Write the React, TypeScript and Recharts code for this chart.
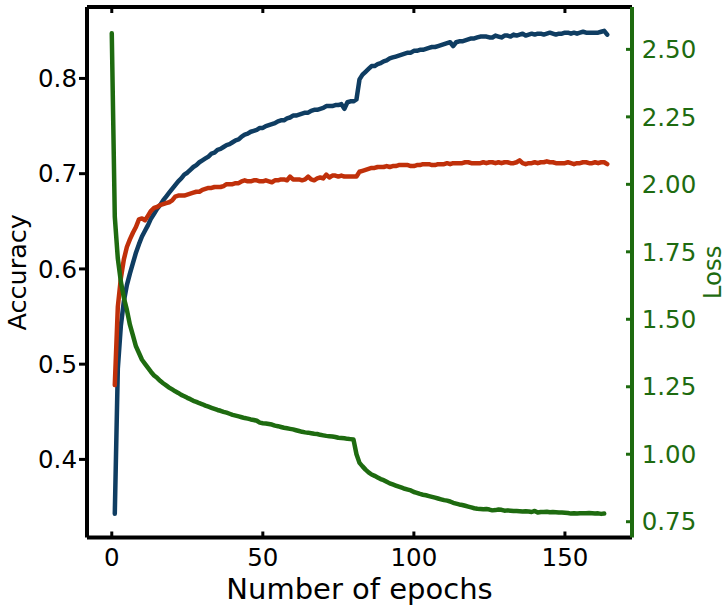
import React from 'react';
import { LineChart, Line, XAxis, YAxis } from 'recharts';

// Accuracy series: epochs 1..164
const trainAcc: number[] = [
  0.343, 0.495, 0.540, 0.566, 0.583, 0.595, 0.606, 0.617, 0.626, 0.634,
  0.640, 0.646, 0.653, 0.658, 0.663, 0.667, 0.672, 0.676, 0.680, 0.684,
  0.688, 0.692, 0.695, 0.699, 0.701, 0.704, 0.707, 0.709, 0.712, 0.714,
  0.716, 0.718, 0.721, 0.722, 0.725, 0.726, 0.728, 0.730, 0.731, 0.733,
  0.735, 0.736, 0.739, 0.741, 0.742, 0.744, 0.745, 0.746, 0.748, 0.748,
  0.750, 0.751, 0.752, 0.753, 0.755, 0.756, 0.756, 0.758, 0.759, 0.761,
  0.761, 0.762, 0.763, 0.764, 0.764, 0.766, 0.767, 0.767, 0.768, 0.769,
  0.771, 0.771, 0.771, 0.772, 0.772, 0.773, 0.768, 0.775, 0.776, 0.776,
  0.778, 0.799, 0.804, 0.807, 0.810, 0.813, 0.813, 0.815, 0.816, 0.818,
  0.819, 0.821, 0.822, 0.823, 0.824, 0.825, 0.826, 0.827, 0.827, 0.829,
  0.829, 0.830, 0.830, 0.831, 0.832, 0.833, 0.833, 0.834, 0.835, 0.836,
  0.837, 0.838, 0.834, 0.838, 0.839, 0.839, 0.840, 0.841, 0.842, 0.842,
  0.843, 0.844, 0.844, 0.844, 0.843, 0.843, 0.845, 0.844, 0.843, 0.845,
  0.845, 0.844, 0.846, 0.845, 0.846, 0.847, 0.845, 0.846, 0.847, 0.846,
  0.847, 0.847, 0.846, 0.847, 0.848, 0.847, 0.846, 0.847, 0.847, 0.848,
  0.848, 0.847, 0.848, 0.847, 0.848, 0.849, 0.848, 0.848, 0.848, 0.848,
  0.848, 0.849, 0.850, 0.846,
];

const valAcc: number[] = [
  0.478, 0.560, 0.590, 0.610, 0.623, 0.631, 0.638, 0.644, 0.652, 0.653,
  0.651, 0.656, 0.661, 0.664, 0.665, 0.667, 0.668, 0.669, 0.670, 0.672,
  0.676, 0.677, 0.677, 0.677, 0.678, 0.679, 0.680, 0.681, 0.681, 0.683,
  0.684, 0.685, 0.685, 0.686, 0.686, 0.686, 0.687, 0.689, 0.689, 0.689,
  0.690, 0.690, 0.692, 0.693, 0.692, 0.692, 0.693, 0.693, 0.692, 0.692,
  0.693, 0.692, 0.691, 0.693, 0.693, 0.694, 0.694, 0.693, 0.697, 0.694,
  0.694, 0.694, 0.693, 0.694, 0.697, 0.694, 0.693, 0.695, 0.696, 0.695,
  0.699, 0.696, 0.698, 0.698, 0.697, 0.698, 0.697, 0.697, 0.697, 0.697,
  0.697, 0.702, 0.703, 0.704, 0.705, 0.706, 0.706, 0.707, 0.707, 0.707,
  0.708, 0.707, 0.708, 0.708, 0.709, 0.709, 0.709, 0.709, 0.708, 0.708,
  0.709, 0.709, 0.710, 0.710, 0.710, 0.709, 0.709, 0.710, 0.710, 0.710,
  0.711, 0.710, 0.711, 0.711, 0.711, 0.711, 0.712, 0.712, 0.711, 0.711,
  0.711, 0.711, 0.712, 0.711, 0.712, 0.712, 0.711, 0.712, 0.711, 0.712,
  0.712, 0.711, 0.711, 0.712, 0.714, 0.711, 0.710, 0.711, 0.711, 0.712,
  0.711, 0.712, 0.712, 0.713, 0.712, 0.712, 0.711, 0.711, 0.711, 0.711,
  0.712, 0.711, 0.710, 0.711, 0.711, 0.712, 0.712, 0.711, 0.711, 0.712,
  0.711, 0.712, 0.712, 0.710,
];

// Loss series: epochs 0..163
const lossVals: number[] = [
  2.560, 1.880, 1.725, 1.640, 1.580, 1.535, 1.480, 1.440, 1.400, 1.375,
  1.350, 1.335, 1.320, 1.305, 1.292, 1.283, 1.272, 1.263, 1.255, 1.247,
  1.240, 1.233, 1.227, 1.220, 1.215, 1.209, 1.204, 1.198, 1.194, 1.189,
  1.185, 1.180, 1.176, 1.172, 1.168, 1.164, 1.161, 1.157, 1.154, 1.150,
  1.146, 1.143, 1.140, 1.137, 1.134, 1.132, 1.129, 1.127, 1.124, 1.117,
  1.115, 1.114, 1.112, 1.110, 1.106, 1.104, 1.101, 1.098, 1.096, 1.094,
  1.092, 1.089, 1.086, 1.083, 1.081, 1.080, 1.078, 1.076, 1.075, 1.072,
  1.070, 1.068, 1.067, 1.066, 1.064, 1.061, 1.060, 1.059, 1.057, 1.056,
  1.055, 1.000, 0.968, 0.955, 0.943, 0.933, 0.925, 0.920, 0.914, 0.908,
  0.904, 0.898, 0.892, 0.888, 0.884, 0.880, 0.876, 0.872, 0.869, 0.866,
  0.860, 0.857, 0.853, 0.850, 0.848, 0.845, 0.842, 0.839, 0.836, 0.833,
  0.830, 0.828, 0.825, 0.820, 0.817, 0.814, 0.812, 0.809, 0.806, 0.803,
  0.800, 0.798, 0.797, 0.796, 0.797, 0.795, 0.792, 0.793, 0.795, 0.794,
  0.791, 0.792, 0.791, 0.790, 0.790, 0.789, 0.788, 0.789, 0.788, 0.786,
  0.790, 0.784, 0.786, 0.786, 0.787, 0.785, 0.786, 0.785, 0.784, 0.784,
  0.783, 0.782, 0.780, 0.781, 0.780, 0.781, 0.781, 0.781, 0.782, 0.781,
  0.780, 0.781, 0.779, 0.780,
];

const xTicks = [0, 50, 100, 150];
const accTicks = [0.4, 0.5, 0.6, 0.7, 0.8];
const lossTicks = [0.75, 1.0, 1.25, 1.5, 1.75, 2.0, 2.25, 2.5];

const NUM_EPOCHS = 165;
const data = Array.from({ length: NUM_EPOCHS }, (_, e) => ({
  epoch: e,
  train: e >= 1 && e - 1 < trainAcc.length ? trainAcc[e - 1] : null,
  val: e >= 1 && e - 1 < valAcc.length ? valAcc[e - 1] : null,
  loss: e < lossVals.length ? lossVals[e] : null,
}));

const BLUE = '#0f3d62';
const RED = '#c0300a';
const GREEN = '#1e6b10';
const FONT = 'DejaVu Sans';

const AccLabel = (props: any) => {
  const vb = props.viewBox;
  const cy = vb.y + vb.height / 2;
  const x = 26;
  return (
    <text x={x} y={cy} transform={`rotate(-90, ${x}, ${cy})`} textAnchor="middle"
      fontSize={25.5} fontFamily={FONT} fill="#000">Accuracy</text>
  );
};

const LossLabel = (props: any) => {
  const vb = props.viewBox;
  const cy = vb.y + vb.height / 2;
  const x = vb.x + vb.width - 6;
  return (
    <text x={x} y={cy} transform={`rotate(-90, ${x}, ${cy})`} textAnchor="middle"
      fontSize={24.5} fontFamily={FONT} fill={GREEN}>Loss</text>
  );
};

const XLabel = (props: any) => {
  const vb = props.viewBox;
  const cx = vb.x + vb.width / 2;
  return (
    <text x={cx} y={599} textAnchor="middle" fontSize={29} fontFamily={FONT} fill="#000">
      Number of epochs
    </text>
  );
};

export default function App() {
  return (
    <div style={{ position: 'absolute', left: 0, top: 0, width: 727, height: 608, background: '#fff' }}>
      <LineChart width={727} height={608} data={data}
        margin={{ top: 6, right: 0, bottom: 0, left: 0 }}>
        <XAxis xAxisId="top" orientation="top" dataKey="epoch" type="number"
          domain={[-8.2, 172.2]} ticks={xTicks} allowDataOverflow height={1}
          tickFormatter={() => ''} tickSize={-6} tickMargin={0}
          axisLine={{ stroke: '#000', strokeWidth: 4 }}
          tickLine={{ stroke: '#000', strokeWidth: 3 }} />
        <XAxis dataKey="epoch" type="number" domain={[-8.2, 172.2]} ticks={xTicks}
          allowDataOverflow height={70.5} tickSize={-6} tickMargin={17.5}
          axisLine={{ stroke: '#000', strokeWidth: 4 }}
          tickLine={{ stroke: '#000', strokeWidth: 3 }}
          tick={{ fill: '#000', fontSize: 24.5, fontFamily: FONT }}
          label={<XLabel />} />
        <YAxis yAxisId="acc" orientation="left" width={87} type="number"
          domain={[0.318, 0.875]} ticks={accTicks} allowDataOverflow
          tickFormatter={(v: number) => v.toFixed(1)} tickSize={8} tickMargin={2}
          axisLine={{ stroke: '#000', strokeWidth: 4 }}
          tickLine={{ stroke: '#000', strokeWidth: 3 }}
          tick={{ fill: '#000', fontSize: 24.5, fontFamily: FONT }}
          label={<AccLabel />} />
        <YAxis yAxisId="loss" orientation="right" width={95} type="number"
          domain={[0.6915, 2.657]} ticks={lossTicks} allowDataOverflow
          tickFormatter={(v: number) => v.toFixed(2)} tickSize={-6} tickMargin={15.7}
          axisLine={{ stroke: GREEN, strokeWidth: 4 }}
          tickLine={{ stroke: GREEN, strokeWidth: 3 }}
          tick={{ fill: GREEN, fontSize: 24.5, fontFamily: FONT }}
          label={<LossLabel />} />
        <Line yAxisId="acc" dataKey="train" stroke={BLUE} strokeWidth={4.5} dot={false}
          isAnimationActive={false} type="linear" strokeLinecap="round" strokeLinejoin="round" />
        <Line yAxisId="acc" dataKey="val" stroke={RED} strokeWidth={4.5} dot={false}
          isAnimationActive={false} type="linear" strokeLinecap="round" strokeLinejoin="round" />
        <Line yAxisId="loss" dataKey="loss" stroke={GREEN} strokeWidth={4.5} dot={false}
          isAnimationActive={false} type="linear" strokeLinecap="round" strokeLinejoin="round" />
      </LineChart>
    </div>
  );
}
